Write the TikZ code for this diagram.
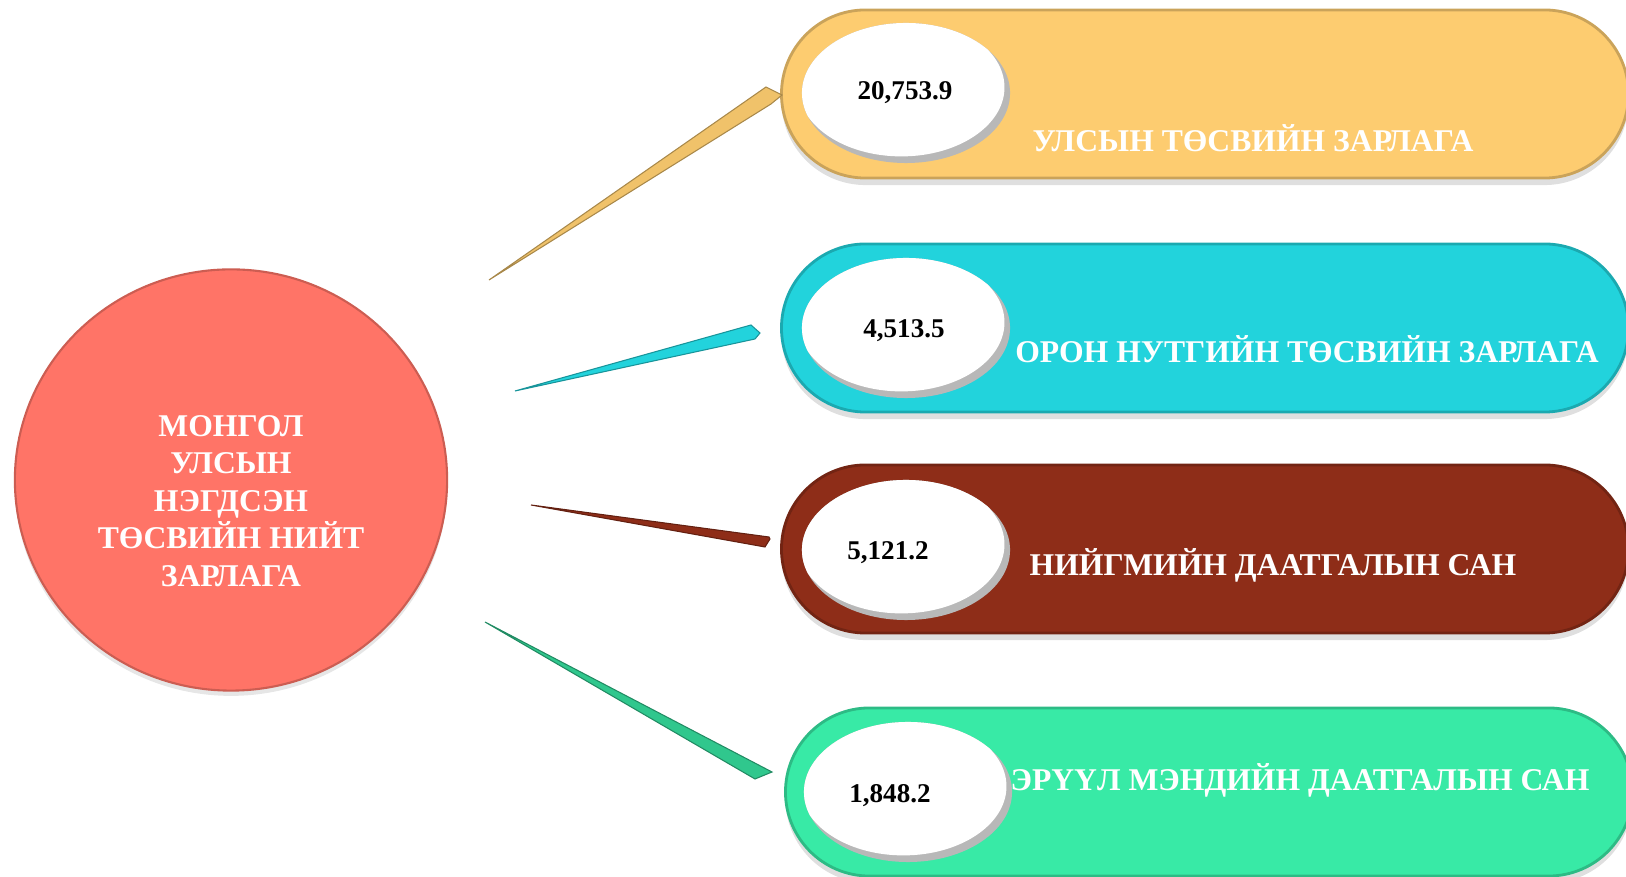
\documentclass[tikz,border=0pt]{standalone}
\usepackage{fontspec}
\setmainfont{Liberation Serif}
\usetikzlibrary{shapes.misc,shapes.geometric,shadows,calc}

\definecolor{salmon}{HTML}{FF7467}
\definecolor{gold}{HTML}{FDCC70}
\definecolor{aqua}{HTML}{22D3DC}
\definecolor{rust}{HTML}{8E2D18}
\definecolor{mint}{HTML}{38EAA6}

\begin{document}
\begin{tikzpicture}
  [x=0.01cm, y=-0.01cm,
 total/.style={
  ellipse,
  fill=salmon,
  draw=salmon!80!black, % rim
  line width=0.6pt,
  minimum width=4.32cm,
  minimum height=4.21cm,
  drop shadow={opacity=0.2, shadow xshift=0pt, shadow yshift=-1.5pt}},
 bigtext/.style={
  text=white,
  align=center,
  font=\bfseries\fontsize{9.0}{10.7}\selectfont},
 pill/.style={
  rounded rectangle,
  fill=#1,
  draw=#1!80!black,
  line width=0.8pt,
  minimum width=8.70cm,
  minimum height=1.68cm,
  drop shadow={opacity=0.25, shadow xshift=0pt, shadow yshift=-2pt}},
 num/.style={
  ellipse,
  fill=black!28,
  minimum width=2.08cm,
  minimum height=1.40cm,
  inner sep=0pt,
  path picture={\fill[white] ([xshift=-1.3pt,yshift=1.6pt]path picture bounding box.center)
    ellipse [x radius=1.03cm, y radius=0.69cm];}},
 numtext/.style={font=\bfseries\fontsize{7.7}{9}\selectfont},
 lbl/.style={text=white, font=\bfseries\fontsize{9.0}{11}\selectfont},
 spike/.style={fill=#1, draw=#1!70!black, line width=0.3pt}]
\useasboundingbox (0,0) rectangle (1626,877);

\node (budget) [total] at (231,480) {};
\node (title) [bigtext] at ($(budget.center)+(0,21)$) {МОНГОЛ\\УЛСЫН\\НЭГДСЭН\\ТӨСВИЙН НИЙТ\\ЗАРЛАГА};

\node (state) [pill=gold] at (1205,94) {};
\node (local) [pill=aqua] at (1205,328) {};
\node (social) [pill=rust] at (1205,549) {};
\node (health) [pill=mint] at (1209,792) {};

\node (n1) [num] at (906,93) {};
\node (n2) [num] at (906,328) {};
\node (n3) [num] at (906,550) {};
\node (n4) [num] at (908,792) {};
\node (v1) [numtext] at ($(n1.center)+(-1,0)$) {20,753.9};
\node (v2) [numtext] at ($(n2.center)+(-2,3)$) {4,513.5};
\node (v3) [numtext] at ($(n3.center)+(-18,3)$) {5,121.2};
\node (v4) [numtext] at ($(n4.center)+(-18,4)$) {1,848.2};

\node (l1) [lbl] at (1253,138) {УЛСЫН ТӨСВИЙН ЗАРЛАГА};
\node (l2) [lbl] at (1307,349) {ОРОН НУТГИЙН ТӨСВИЙН ЗАРЛАГА};
\node (l3) [lbl] at (1273,565) {НИЙГМИЙН ДААТГАЛЫН САН};
\node (l4) [lbl] at (1300,780) {ЭРҮҮЛ МЭНДИЙН ДААТГАЛЫН САН};

% spikes from the circle to the pills
\coordinate (s1) at (489,280);
\coordinate (s2) at (515,391);
\coordinate (s3) at (531,505);
\coordinate (s4) at (485,622);
\coordinate (e1a) at (766,87);  \coordinate (e1b) at (782,95);  \coordinate (e1c) at (771,104);
\coordinate (e2a) at (751,325); \coordinate (e2b) at (760,333); \coordinate (e2c) at (755,339);
\coordinate (e3a) at (769,537); \coordinate (e3b) at (770,539); \coordinate (e3c) at (765,547);
\coordinate (e4a) at (772,772); \coordinate (e4b) at (772,772); \coordinate (e4c) at (755,779);
\path[spike=gold!95!black] (s1) -- (e1a) -- (e1b) -- (e1c) -- cycle;
\path[spike=aqua] (s2) -- (e2a) -- (e2b) -- (e2c) -- cycle;
\path[spike=rust] (s3) -- (e3a) -- (e3b) -- (e3c) -- cycle;
\path[spike=mint!85!black] (s4) -- (e4a) -- (e4b) -- (e4c) -- cycle;
\end{tikzpicture}
\end{document}
